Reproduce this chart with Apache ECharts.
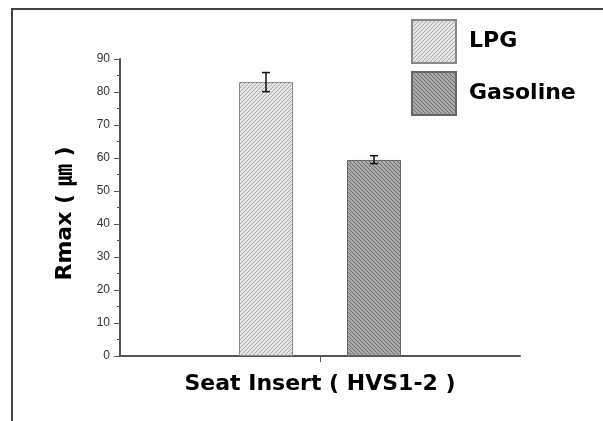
<!DOCTYPE html>
<html>
<head>
<meta charset="utf-8">
<script src="https://cdn.jsdelivr.net/npm/echarts@6/dist/echarts.min.js"></script>
<style>
  html, body { margin: 0; padding: 0; background: #fff; }
  #chart { width: 603px; height: 421px; }
</style>
</head>
<body>
<div id="chart"></div>
<script>
const categories = ['Seat Insert'];
const seriesNames = ['LPG', 'Gasoline'];
const lpgValues = [83];
const gasolineValues = [59.4];
const lpgErrors = [[80.1, 85.9]];
const gasolineErrors = [[58.3, 60.7]];

// hatched fill like the original plot
function hatch(bg, line, dir) {
  const c = document.createElement('canvas');
  c.width = 4; c.height = 4;
  const ctx = c.getContext('2d');
  ctx.fillStyle = bg;
  ctx.fillRect(0, 0, 4, 4);
  ctx.strokeStyle = line;
  ctx.lineWidth = 1;
  ctx.beginPath();
  if (dir > 0) {
    ctx.moveTo(-1, 5); ctx.lineTo(5, -1);
    ctx.moveTo(-1, 1); ctx.lineTo(1, -1);
    ctx.moveTo(3, 5); ctx.lineTo(5, 3);
  } else {
    ctx.moveTo(-1, -1); ctx.lineTo(5, 5);
    ctx.moveTo(3, -1); ctx.lineTo(5, 1);
    ctx.moveTo(-1, 3); ctx.lineTo(1, 5);
  }
  ctx.stroke();
  return { image: c, repeat: 'repeat' };
}

const lpgFill = hatch('#e4e4e4', '#ababab', 1);
const gasFill = hatch('#a8a8a8', '#727272', -1);

const barPct = 0.135;
const font = '"Liberation Sans", Arial, "Noto Sans CJK JP", sans-serif';
const boldFont = '"DejaVu Sans", "Noto Sans CJK JP", sans-serif';

function errorSeries(errs, side) {
  return {
    type: 'custom',
    silent: true,
    z: 10,
    data: errs.map((e, i) => [i, e[0], e[1]]),
    renderItem: function (params, api) {
      const band = api.size([1, 0])[0];
      const off = side * band * barPct;
      const lo = api.coord([api.value(0), api.value(1)]);
      const hi = api.coord([api.value(0), api.value(2)]);
      const x = lo[0] + off;
      const cap = 4;
      const style = { stroke: '#111', lineWidth: 1.5 };
      return {
        type: 'group',
        children: [
          { type: 'line', shape: { x1: x, y1: lo[1], x2: x, y2: hi[1] }, style: style },
          { type: 'line', shape: { x1: x - cap, y1: lo[1], x2: x + cap, y2: lo[1] }, style: style },
          { type: 'line', shape: { x1: x - cap, y1: hi[1], x2: x + cap, y2: hi[1] }, style: style }
        ]
      };
    }
  };
}

const chart = echarts.init(document.getElementById('chart'));

const option = {
  backgroundColor: '#fff',
  animation: false,
  graphic: [
    {
      type: 'rect',
      shape: { x: 12, y: 9, width: 640, height: 460 },
      style: { fill: 'none', stroke: '#444', lineWidth: 2 },
      silent: true
    }
  ],
  legend: {
    orient: 'vertical',
    left: 411,
    top: 19,
    padding: 0,
    itemWidth: 44,
    itemHeight: 43,
    itemGap: 7,
    icon: 'rect',
    data: seriesNames,
    textStyle: {
      fontFamily: boldFont,
      fontSize: 22,
      fontWeight: 'bold',
      color: '#000',
      padding: [0, 0, 0, 8]
    }
  },
  grid: {
    left: 120,
    right: 83,
    top: 59,
    bottom: 65
  },
  xAxis: {
    type: 'category',
    data: categories,
    name: 'Seat Insert ( HVS1-2 )',
    nameLocation: 'middle',
    nameGap: 17,
    nameTextStyle: {
      fontFamily: boldFont,
      fontSize: 22,
      fontWeight: 'bold',
      color: '#000'
    },
    axisLine: { lineStyle: { color: '#555', width: 2 } },
    axisTick: { show: true, alignWithLabel: true, length: 6, lineStyle: { color: '#555', width: 1 } },
    axisLabel: { show: false }
  },
  yAxis: {
    type: 'value',
    min: 0,
    max: 90,
    interval: 10,
    name: 'Rmax ( ㎛ )',
    nameLocation: 'middle',
    nameGap: 44,
    nameRotate: 90,
    nameTextStyle: {
      fontFamily: boldFont,
      fontSize: 22,
      fontWeight: 'bold',
      color: '#000',
      padding: [0, 12, 0, 0]
    },
    axisLine: { show: true, lineStyle: { color: '#555', width: 2 } },
    axisTick: { show: true, length: 6, lineStyle: { color: '#555', width: 1 } },
    minorTick: { show: true, splitNumber: 2, length: 3, lineStyle: { color: '#555', width: 1 } },
    splitLine: { show: false },
    axisLabel: {
      fontFamily: font,
      fontSize: 12,
      color: '#333',
      margin: 10
    }
  },
  series: [
    {
      name: 'LPG',
      type: 'bar',
      data: lpgValues,
      barWidth: (barPct * 100) + '%',
      barGap: '100%',
      itemStyle: { color: lpgFill, borderColor: '#888', borderWidth: 1 }
    },
    {
      name: 'Gasoline',
      type: 'bar',
      data: gasolineValues,
      barWidth: (barPct * 100) + '%',
      itemStyle: { color: gasFill, borderColor: '#666', borderWidth: 1 }
    },
    errorSeries(lpgErrors, -1),
    errorSeries(gasolineErrors, 1)
  ]
};

chart.setOption(option);
</script>
</body>
</html>
